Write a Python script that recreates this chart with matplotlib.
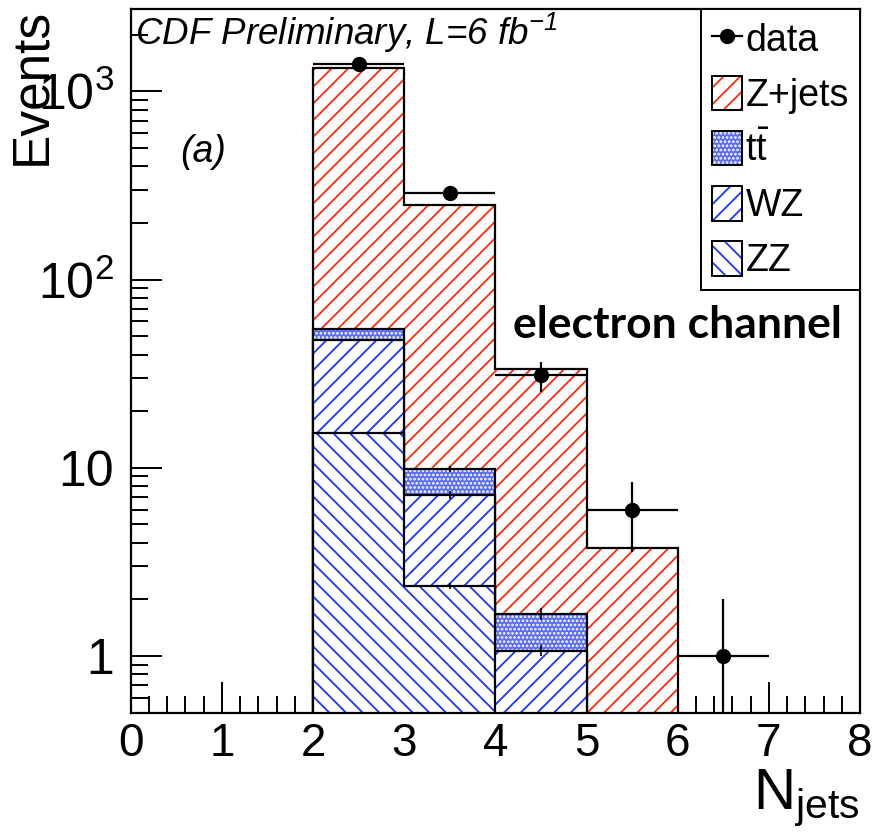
import numpy as np
import matplotlib
matplotlib.use('Agg')
import matplotlib.pyplot as plt
from matplotlib.patches import Patch
from matplotlib.lines import Line2D
from matplotlib.ticker import FixedLocator, NullFormatter, MultipleLocator, LogLocator
from matplotlib.legend_handler import HandlerTuple

plt.rcParams['font.family'] = ['Liberation Sans', 'DejaVu Sans']
plt.rcParams['mathtext.fontset'] = 'custom'
plt.rcParams['mathtext.rm'] = 'Liberation Sans'
plt.rcParams['mathtext.it'] = 'Liberation Sans:italic'
plt.rcParams['hatch.linewidth'] = 1.3

# ─── DATA ──────────────────────────────────────────────────────────────────────
mc_edges = [2, 3, 4, 5, 6]
zz    = [15.3, 2.36, 0.40, 0.10]
wz    = [32.7, 4.85, 0.67, 0.15]
ttbar = [6.7, 2.63, 0.60, 0.20]
zjets = [1270.0, 240.0, 31.8, 3.32]

# MC stat uncertainty on the top of each stacked level
zz_err = [0.20, 0.09, 0.02, 0.01]
wz_err = [0.40, 0.35, 0.07, 0.02]
tt_err = [0.60, 0.35, 0.12, 0.05]

data_x = [2.5, 3.5, 4.5, 5.5, 6.5]
data_n = [1400, 290, 31, 6, 1]

x_ticks = [0, 1, 2, 3, 4, 5, 6, 7, 8]
y_ticks = [1, 10, 100, 1000]
y_tick_labels = ['1', '10', r'$\mathregular{10^{2}}$', r'$\mathregular{10^{3}}$']

RED = '#ff2a0a'
BLUE = '#1f35ff'
TT_FACE = '#5a6cf5'

# ─── FIGURE ────────────────────────────────────────────────────────────────────
fig = plt.figure(figsize=(8.76, 8.34), dpi=100)
ax = fig.add_axes([130.7 / 876, 1 - 712.7 / 834, (860 - 130.7) / 876, (712.7 - 9.3) / 834])
ax.set_yscale('log')

c1 = np.array(zz)
c2 = c1 + np.array(wz)
c3 = c2 + np.array(ttbar)
c4 = c3 + np.array(zjets)

base = 1e-3
styles = [
    (c4, dict(facecolor='white', edgecolor=RED, hatch='//')),
    (c3, dict(facecolor=TT_FACE, edgecolor='white', hatch='....')),
    (c2, dict(facecolor='white', edgecolor=BLUE, hatch='//')),
    (c1, dict(facecolor='white', edgecolor=BLUE, hatch='\\\\')),
]
for z, (vals, st) in enumerate(styles):
    ax.stairs(vals, mc_edges, baseline=base, fill=True, linewidth=0, zorder=2 + z * 0.1, **st)
    ax.stairs(vals, mc_edges, baseline=base, color='black', linewidth=1.6, zorder=2.05 + z * 0.1)

centers = [2.5, 3.5, 4.5, 5.5]
for lvl, err in [(c1, zz_err), (c2, wz_err), (c3, tt_err)]:
    ax.errorbar(centers, lvl, yerr=err, fmt='none', ecolor='black', elinewidth=1.2, zorder=3)

data_err = np.sqrt(data_n)
ax.errorbar(data_x, data_n, xerr=0.5, yerr=data_err, fmt='o', color='black',
            ms=10, elinewidth=1.6, capsize=0, zorder=4)

ax.set_xlim(0, 8)
ax.set_ylim(0.5, 2730)

# ─── AXES STYLE (ROOT-like) ────────────────────────────────────────────────────
for s in ax.spines.values():
    s.set_linewidth(1.6)
ax.xaxis.set_major_locator(FixedLocator(x_ticks))
ax.xaxis.set_minor_locator(MultipleLocator(0.2))
ax.set_xticklabels([str(t) for t in x_ticks])
ax.yaxis.set_major_locator(FixedLocator(y_ticks))
ax.yaxis.set_minor_locator(LogLocator(base=10, subs=np.arange(2, 10)))
ax.yaxis.set_minor_formatter(NullFormatter())
ax.set_yticklabels(y_tick_labels)
ax.tick_params(which='both', direction='in', top=False, right=False, width=1.4)
ax.tick_params(which='major', length=22)
ax.tick_params(which='minor', length=12)
ax.tick_params(axis='y', which='major', labelsize=36, pad=12)
ax.tick_params(axis='x', which='major', labelsize=33, pad=7)

# ─── LEGEND ────────────────────────────────────────────────────────────────────
def boxed(**kw):
    return (Patch(linewidth=0, **kw), Patch(fill=False, edgecolor='black', linewidth=1.4))

handles = [
    Line2D([], [], color='black', marker='o', ms=10, lw=1.6),
    boxed(facecolor='white', edgecolor=RED, hatch='//'),
    boxed(facecolor=TT_FACE, edgecolor='white', hatch='....'),
    boxed(facecolor='white', edgecolor=BLUE, hatch='//'),
    boxed(facecolor='white', edgecolor=BLUE, hatch='\\\\'),
]
labels = ['data', 'Z+jets', r't$\mathregular{\bar{t}}$', 'WZ', 'ZZ']
leg = ax.legend(handles, labels, loc='upper right', bbox_to_anchor=(1, 1),
                borderaxespad=0, fontsize=27, handlelength=0.8, handleheight=1.05,
                handletextpad=0.08, labelspacing=0.45, borderpad=0.3,
                fancybox=False, framealpha=1, edgecolor='black',
                handler_map={tuple: HandlerTuple(ndivide=1, pad=0)})
leg.get_frame().set_linewidth(1.4)
leg.set_zorder(6)

# ─── TEXT ──────────────────────────────────────────────────────────────────────
fig.text(135 / 876, 1 - 45 / 834, r'CDF Preliminary, L=6 fb$^{\mathregular{-1}}$',
         fontsize=26.5, style='italic', ha='left', va='baseline')
fig.text(180 / 876, 1 - 162 / 834, '(a)', fontsize=27, style='italic', ha='left', va='baseline')
fig.text(513 / 876, 1 - 338 / 834, 'electron channel', fontsize=32, fontweight='bold',
         family=['Lato', 'DejaVu Sans'], ha='left', va='baseline')
fig.text(32 / 876, 1 - 8 / 834, 'Events', fontsize=37, rotation=90, ha='center', va='top')
fig.text(860 / 876, 1 - 809 / 834, r'$\mathregular{N_{jets}}$', fontsize=42, ha='right', va='baseline')

fig.savefig('out.png', dpi=100)
